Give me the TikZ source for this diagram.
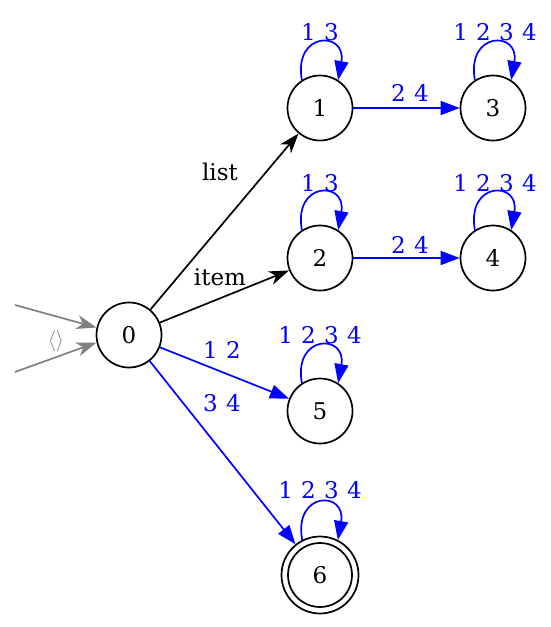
\documentclass[tikz,border=0pt]{standalone}
\usepackage{fontspec}
\setmainfont{DejaVu Serif}
\usetikzlibrary{arrows.meta}
\definecolor{initgray}{RGB}{128,128,128}
\newcommand\mylblfont{\fontsize{23}{26}\selectfont\spaceskip=0.36em plus 0pt minus 0pt\relax}
\tikzset{
  txt/.style={font=\mylblfont},
  state/.style={circle,draw,line width=1.7pt,minimum size=65pt,inner sep=0pt,txt},
  lbl/.style={txt,inner sep=0pt},
  blbl/.style={lbl,text=blue},
  blk/.style={line width=1.7pt,-{Stealth[length=20pt,width=14pt,inset=6pt]}},
  bl/.style={line width=1.7pt,blue,-{Triangle[length=19pt,width=14pt]}},
  ini/.style={line width=1.7pt,initgray,-{Stealth[length=20pt,width=14pt,inset=6pt]}},
}
\begin{document}
\begin{tikzpicture}[x=1pt,y=1pt]
\useasboundingbox (0,0) rectangle (550,-627);
\node[state] (n0) at (129,-335) {0};
\node[state] (n1) at (320,-108) {1};
\node[state] (n3) at (493,-108) {3};
\node[state] (n2) at (320,-258) {2};
\node[state] (n4) at (493,-258) {4};
\node[state] (n5) at (320,-411) {5};
\node[state,minimum size=77pt] (n6) at (320,-575) {6};
\draw[line width=1.7pt] (n6.center) circle (32pt);
\coordinate (s1) at (15,-305);
\coordinate (s2) at (15,-372);
\draw[ini] (s1) -- (n0.167);
\draw[ini] (s2) -- (n0.193) node[inner sep=0pt,text=initgray,scale=2.1] (lini) at (56,-341) {$\langle\rangle$};
\draw[blk] (n0) -- (n1) node[lbl] (l01) at (220,-172) {list};
\draw[blk] (n0) -- (n2) node[lbl] (l02) at (220,-277) {item};
\draw[bl] (n0) -- (n5) node[blbl] (l05) at (222,-350) {1 2};
\draw[bl] (n0) -- (n6) node[blbl] (l06) at (222,-403) {3 4};
\draw[bl] (n1) -- (n3) node[blbl] (l13) at (410,-93) {2 4};
\draw[bl] (n2) -- (n4) node[blbl] (l24) at (410,-245) {2 4};
\draw[bl] (n1.123) .. controls +(100:50) and +(80:50) .. (n1.57) node[blbl] (ll1) at (320,-32) {1 3};
\draw[bl] (n3.123) .. controls +(100:50) and +(80:50) .. (n3.57) node[blbl] (ll3) at (495,-32) {1 2 3 4};
\draw[bl] (n2.123) .. controls +(100:50) and +(80:50) .. (n2.57) node[blbl] (ll2) at (320,-183) {1 3};
\draw[bl] (n4.123) .. controls +(100:50) and +(80:50) .. (n4.57) node[blbl] (ll4) at (495,-183) {1 2 3 4};
\draw[bl] (n5.123) .. controls +(100:50) and +(80:50) .. (n5.57) node[blbl] (ll5) at (320,-335) {1 2 3 4};
\draw[bl] (n6.117) .. controls +(100:50) and +(80:50) .. (n6.63) node[blbl] (ll6) at (320,-490) {1 2 3 4};
\end{tikzpicture}
\end{document}
